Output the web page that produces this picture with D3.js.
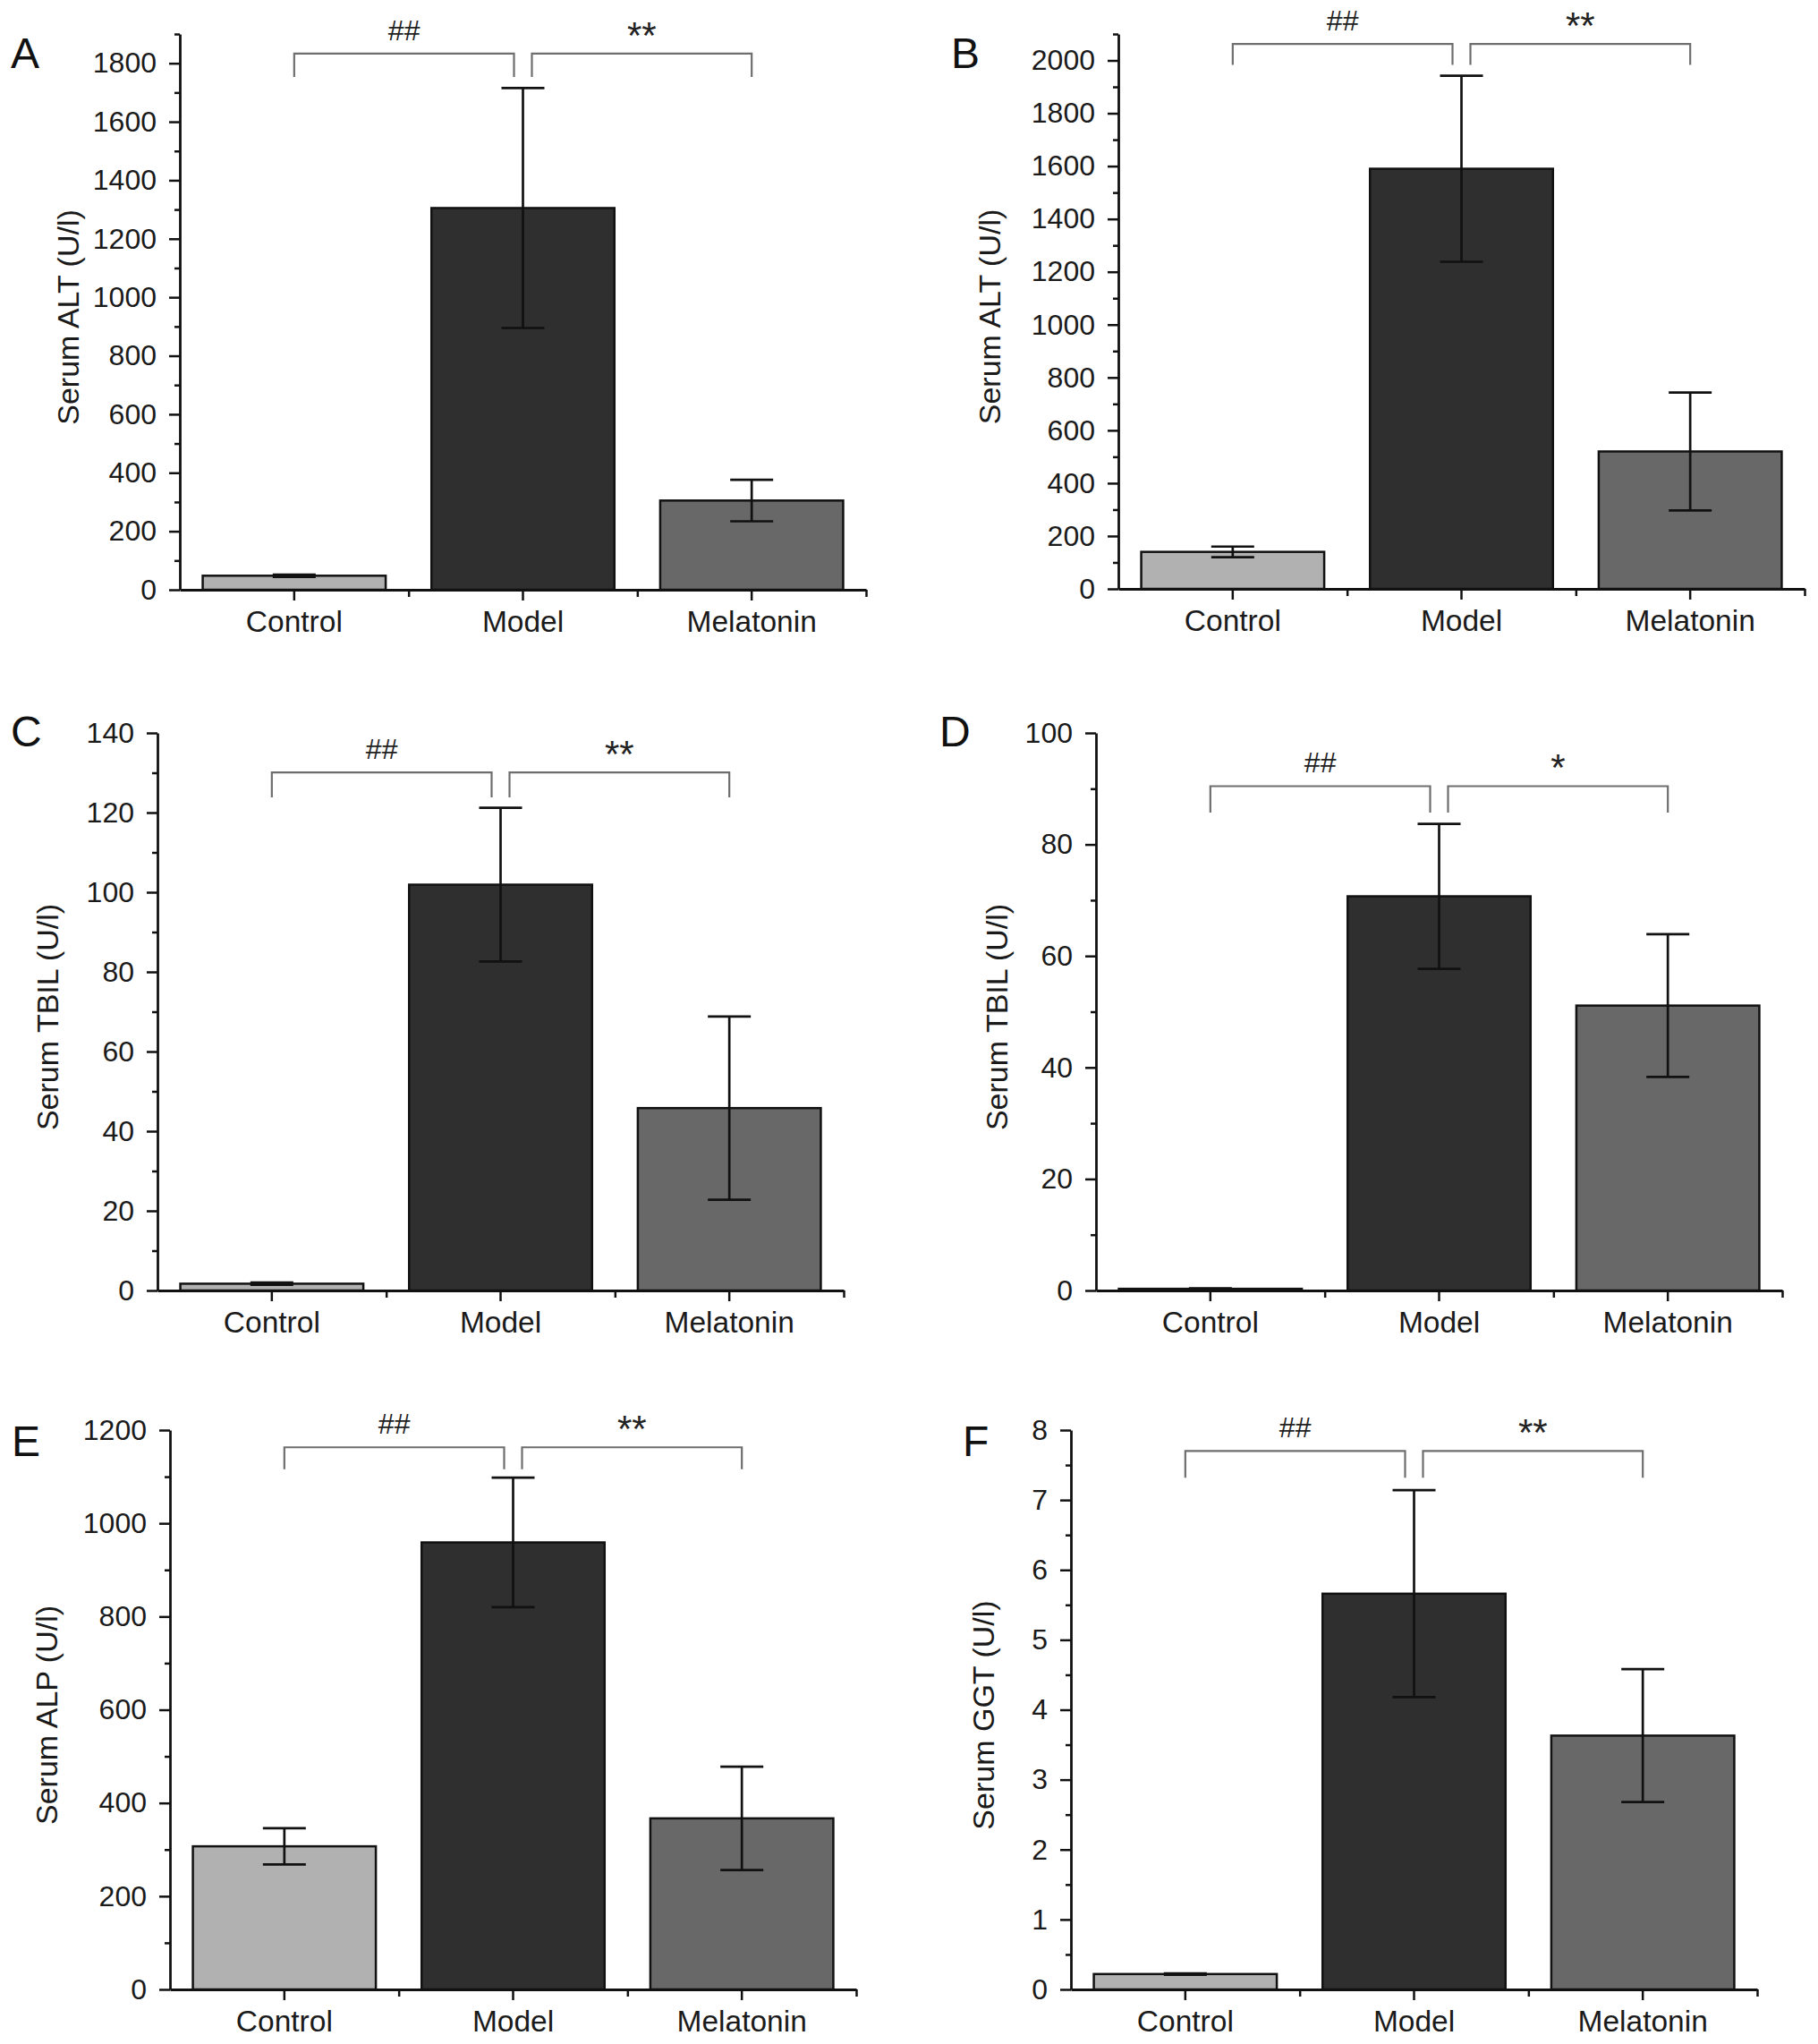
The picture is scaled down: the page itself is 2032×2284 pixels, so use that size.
<!DOCTYPE html>
<html>
<head>
<meta charset="utf-8">
<script src="https://cdn.jsdelivr.net/npm/d3@7"></script>
<style>
  html, body { margin: 0; padding: 0; background: #fff; }
  svg { display: block; font-family: "Liberation Sans", Arial, Helvetica, sans-serif; }
</style>
</head>
<body>
<svg id="chart" width="2032" height="2284"></svg>
<script>
// Groups shared by all six panels
const groups = ["Control", "Model", "Melatonin"]

// A - Serum ALT
const altA = [48, 1305, 305]
const altAErr = [4, 410, 71]
const ticksA = [0, 200, 400, 600, 800, 1000, 1200, 1400, 1600, 1800]

// B - Serum ALT
const altB = [140, 1590, 520]
const altBErr = [20, 352, 223]
const ticksB = [0, 200, 400, 600, 800, 1000, 1200, 1400, 1600, 1800, 2000]

// C - Serum TBIL
const tbilC = [1.7, 101.9, 45.8]
const tbilCErr = [0.3, 19.3, 23]
const ticksC = [0, 20, 40, 60, 80, 100, 120, 140]

// D - Serum TBIL
const tbilD = [0.3, 70.7, 51.1]
const tbilDErr = [0.1, 13, 12.8]
const ticksD = [0, 20, 40, 60, 80, 100]

// E - Serum ALP
const alpE = [307, 959, 367]
const alpEErr = [39, 139, 111]
const ticksE = [0, 200, 400, 600, 800, 1000, 1200]

// F - Serum GGT
const ggtF = [0.22, 5.66, 3.63]
const ggtFErr = [0.01, 1.48, 0.95]
const ticksF = [0, 1, 2, 3, 4, 5, 6, 7, 8]

// significance marks (Control vs Model, Model vs Melatonin)
const sigLeft = ["##", "##", "##", "##", "##", "##"]
const sigRight = ["**", "**", "**", "*", "**", "**"]

const BAR_FILL = { Control: "#b1b1b1", Model: "#2f2f2f", Melatonin: "#686868" }

// panel layout (pixels) + annotation levels (data units)
const panels = [
  { letter: "A", values: altA, errs: altAErr, ticks: ticksA, top: 1900, label: "Serum ALT (U/l)",
    x0: 201, y0: 659, yTop: 38, labelX: 76, letterX: 12, letterY: 76, brTop: 1833, brDrop: 1753 },
  { letter: "B", values: altB, errs: altBErr, ticks: ticksB, top: 2100, label: "Serum ALT (U/l)",
    x0: 1250, y0: 658, yTop: 38, labelX: 1106, letterX: 1063, letterY: 76, brTop: 2062, brDrop: 1983 },
  { letter: "C", values: tbilC, errs: tbilCErr, ticks: ticksC, top: 140, label: "Serum TBIL (U/l)",
    x0: 176, y0: 1442, yTop: 819, labelX: 53, letterX: 12, letterY: 834, brTop: 130.1, brDrop: 123.8 },
  { letter: "D", values: tbilD, errs: tbilDErr, ticks: ticksD, top: 100, label: "Serum TBIL (U/l)",
    x0: 1225, y0: 1442, yTop: 819, labelX: 1114, letterX: 1050, letterY: 834, brTop: 90.45, brDrop: 85.7 },
  { letter: "E", values: alpE, errs: alpEErr, ticks: ticksE, top: 1200, label: "Serum ALP (U/l)",
    x0: 190, y0: 2223, yTop: 1598, labelX: 52, letterX: 13, letterY: 1627, brTop: 1163, brDrop: 1116 },
  { letter: "F", values: ggtF, errs: ggtFErr, ticks: ticksF, top: 8, label: "Serum GGT (U/l)",
    x0: 1197, y0: 2223, yTop: 1598, labelX: 1099, letterX: 1076, letterY: 1627, brTop: 7.70, brDrop: 7.32 }
]

const PLOT_W = 767
const svg = d3.select("#chart")

panels.forEach((p, i) => {
  const g = svg.append("g")

  const x = d3.scaleBand()
    .domain(groups)
    .range([p.x0, p.x0 + PLOT_W])
    .paddingInner(0.2)
    .paddingOuter(0.1)

  const y = d3.scaleLinear()
    .domain([0, p.top])
    .range([p.y0, p.yTop])

  const step = p.ticks[1] - p.ticks[0]
  const minor = d3.range(step / 2, p.top + step / 4, step)
    .filter(v => !p.ticks.some(t => Math.abs(t - v) < 1e-9))

  const rows = groups.map((k, j) => ({ k, v: p.values[j], e: p.errs[j] }))

  // bars
  g.selectAll("rect.bar")
    .data(rows)
    .enter().append("rect")
    .attr("class", "bar")
    .attr("x", d => x(d.k))
    .attr("width", x.bandwidth())
    .attr("y", d => y(d.v))
    .attr("height", d => y(0) - y(d.v))
    .attr("fill", d => BAR_FILL[d.k])
    .attr("stroke", "#111")
    .attr("stroke-width", 2.5)

  // error bars
  const eb = g.selectAll("g.err")
    .data(rows)
    .enter().append("g")
    .attr("class", "err")
    .attr("stroke", "#111")
    .attr("stroke-width", 2.7)
  const cx = d => x(d.k) + x.bandwidth() / 2
  eb.append("line")
    .attr("x1", cx).attr("x2", cx)
    .attr("y1", d => y(d.v + d.e)).attr("y2", d => y(d.v - d.e))
  eb.append("line")
    .attr("x1", d => cx(d) - 24).attr("x2", d => cx(d) + 24)
    .attr("y1", d => y(d.v + d.e)).attr("y2", d => y(d.v + d.e))
  eb.append("line")
    .attr("x1", d => cx(d) - 24).attr("x2", d => cx(d) + 24)
    .attr("y1", d => y(d.v - d.e)).attr("y2", d => y(d.v - d.e))

  // y axis: minor then major
  g.append("g")
    .attr("transform", `translate(${p.x0},0)`)
    .call(d3.axisLeft(y).tickValues(minor).tickSize(6).tickSizeOuter(0).tickFormat(""))
    .call(a => a.select(".domain").remove())
    .call(a => a.selectAll("line").attr("stroke", "#111").attr("stroke-width", 2.5))

  g.append("g")
    .attr("transform", `translate(${p.x0},0)`)
    .call(d3.axisLeft(y).tickValues(p.ticks).tickSize(12).tickSizeOuter(0).tickPadding(14)
      .tickFormat(d3.format("d")))
    .call(a => a.select(".domain").attr("stroke", "#111").attr("stroke-width", 2.8))
    .call(a => a.selectAll("line").attr("stroke", "#111").attr("stroke-width", 2.5))
    .call(a => a.selectAll("text").attr("font-size", 32).attr("fill", "#1a1a1a")
      .attr("font-family", "'Liberation Sans', Arial, sans-serif"))

  // x axis: band boundary ticks then category ticks with labels
  const xb = d3.scaleLinear().domain([0, 3]).range([p.x0, p.x0 + PLOT_W])
  g.append("g")
    .attr("transform", `translate(0,${p.y0})`)
    .call(d3.axisBottom(xb).tickValues([1, 2, 3]).tickSize(8).tickSizeOuter(0).tickFormat(""))
    .call(a => a.select(".domain").remove())
    .call(a => a.selectAll("line").attr("stroke", "#111").attr("stroke-width", 2.5))

  g.append("g")
    .attr("transform", `translate(0,${p.y0})`)
    .call(d3.axisBottom(x).tickSize(12).tickSizeOuter(0).tickPadding(11))
    .call(a => a.select(".domain").attr("stroke", "#111").attr("stroke-width", 2.8))
    .call(a => a.selectAll("line").attr("stroke", "#111").attr("stroke-width", 2.5))
    .call(a => a.selectAll("text").attr("font-size", 33.5).attr("fill", "#1a1a1a")
      .attr("font-family", "'Liberation Sans', Arial, sans-serif"))

  // y axis title
  g.append("text")
    .attr("transform", `translate(${p.labelX},${(p.y0 + p.yTop) / 2 + 6}) rotate(-90)`)
    .attr("text-anchor", "middle")
    .attr("dy", "0.35em")
    .attr("font-size", 34)
    .attr("fill", "#1a1a1a")
    .text(p.label)

  // panel letter
  g.append("text")
    .attr("x", p.letterX)
    .attr("y", p.letterY)
    .attr("font-size", 48)
    .attr("fill", "#111")
    .text(p.letter)

  // significance brackets
  const cC = x("Control") + x.bandwidth() / 2
  const cM = x("Model") + x.bandwidth() / 2
  const cL = x("Melatonin") + x.bandwidth() / 2
  const yt = y(p.brTop), yd = y(p.brDrop)
  const brackets = [
    { a: cC, b: cM - 10, t: sigLeft[i] },
    { a: cM + 10, b: cL, t: sigRight[i] }
  ]
  const br = g.selectAll("g.br").data(brackets).enter().append("g").attr("class", "br")
  br.append("path")
    .attr("d", d => `M${d.a},${yd}V${yt}H${d.b}V${yd}`)
    .attr("fill", "none")
    .attr("stroke", "#6e6e6e")
    .attr("stroke-width", 2.2)
  br.append("text")
    .attr("x", d => (d.a + d.b) / 2)
    .attr("y", d => d.t.startsWith("*") ? yt - 6 : yt - 15)
    .attr("text-anchor", "middle")
    .attr("font-size", d => d.t.startsWith("*") ? 42 : 32)
    .attr("fill", "#222")
    .text(d => d.t)
})
</script>
</body>
</html>
